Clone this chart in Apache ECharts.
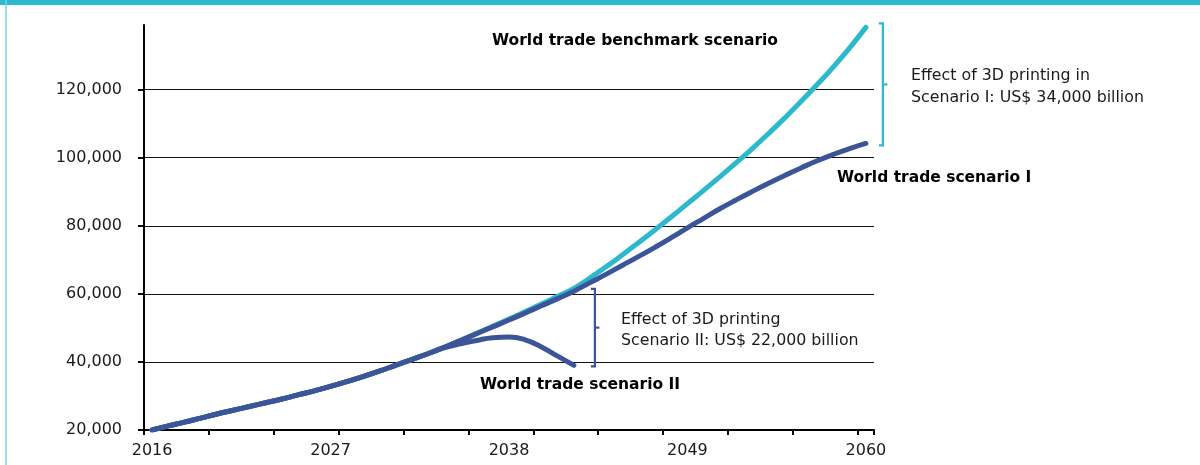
<!DOCTYPE html>
<html>
<head>
<meta charset="utf-8">
<script src="https://cdn.jsdelivr.net/npm/echarts@6/dist/echarts.min.js"></script>
<style>
  html, body { margin: 0; padding: 0; background: #ffffff; }
  #chart { width: 1200px; height: 465px; }
</style>
</head>
<body>
<div id="chart"></div>
<script>
// ---- data (US$ billion) ----
const years = [];
for (let y = 2016; y <= 2060; y++) years.push(String(y));

const benchmark = [
  20000, 21200, 22300, 23500, 24700, 25800, 26900, 28000, 29100, 30300,
  31500, 32800, 34200, 35700, 37300, 39000, 40700, 42400, 44300, 46300,
  48400, 50500, 52600, 54800, 57000, 59300, 61600, 64700, 68000, 71500,
  75100, 78800, 82600, 86500, 90400, 94400, 98500, 102700, 107100, 111700,
  116500, 121500, 126700, 132300, 138300
];
const scenarioI = [
  20000, 21200, 22300, 23500, 24700, 25800, 26900, 28000, 29100, 30300,
  31500, 32800, 34200, 35700, 37300, 39000, 40700, 42400, 44300, 46300,
  48300, 50300, 52300, 54400, 56500, 58600, 60800, 63300, 65800, 68400,
  71000, 73700, 76500, 79400, 82200, 85000, 87600, 90100, 92500, 94800,
  97000, 99100, 101000, 102700, 104200
];
const scenarioII = [
  20000, 21200, 22300, 23500, 24700, 25800, 26900, 28000, 29100, 30300,
  31500, 32800, 34200, 35700, 37300, 39000, 40700, 42400, 44100, 45300,
  46300, 47100, 47300, 46500, 44400, 41700, 39000
];
const yTicks = { min: 20000, max: 139000, interval: 20000 };
const seriesNames = ['World trade benchmark scenario', 'World trade scenario I', 'World trade scenario II'];
const effectI = 'Effect of 3D printing in\nScenario I: US$ 34,000 billion';
const effectII = 'Effect of 3D printing\nScenario II: US$ 22,000 billion';

const CYAN = '#2cb8cd';
const NAVY = '#3c5598';
const FONT = '"DejaVu Sans", sans-serif';

const chart = echarts.init(document.getElementById('chart'), null, { renderer: 'canvas' });

const option = {
  animation: false,
  backgroundColor: '#ffffff',
  textStyle: { fontFamily: FONT },
  grid: { left: 144, right: 326, top: 25, bottom: 35, containLabel: false },
  xAxis: {
    type: 'category',
    data: years,
    boundaryGap: true,
    axisLine: { show: true, lineStyle: { color: '#000', width: 2 } },
    axisTick: { show: true, interval: 3, length: 5, lineStyle: { color: '#000', width: 2 } },
    axisLabel: { interval: 10, color: '#1a1a1a', fontSize: 16, margin: 13, fontFamily: FONT },
    splitLine: { show: false }
  },
  yAxis: {
    type: 'value',
    min: yTicks.min,
    max: yTicks.max,
    interval: yTicks.interval,
    axisLine: { show: true, lineStyle: { color: '#000', width: 2 } },
    axisTick: { show: true, length: 6, lineStyle: { color: '#000', width: 2 } },
    axisLabel: {
      color: '#1a1a1a', fontSize: 16, margin: 22, fontFamily: FONT, showMaxLabel: false,
      formatter: v => v.toLocaleString('en-US')
    },
    splitLine: {
      show: true,
      lineStyle: { color: ['#111', '#111', '#111', '#111', '#111', '#111', 'rgba(0,0,0,0)'], width: 1 }
    }
  },
  series: [
    { name: seriesNames[0], type: 'line', data: benchmark, smooth: true, symbol: 'none',
      lineStyle: { color: CYAN, width: 5, cap: 'round' }, z: 2 },
    { name: seriesNames[1], type: 'line', data: scenarioI, smooth: true, symbol: 'none',
      lineStyle: { color: NAVY, width: 5, cap: 'round' }, z: 3 },
    { name: seriesNames[2], type: 'line', data: scenarioII, smooth: true, symbol: 'none',
      lineStyle: { color: NAVY, width: 5, cap: 'round' }, z: 3 }
  ]
};
chart.setOption(option);

// ---- annotations anchored to data ----
const px = (i, v) => chart.convertToPixel({ xAxisIndex: 0, yAxisIndex: 0 }, [i, v]);
const last = years.length - 1;
const endII = scenarioII.length - 1;
const bTop = px(last, benchmark[last]);
const bBot = px(last, scenarioI[last]);
const cTop = px(endII, benchmark[endII]);
const cBot = px(endII, scenarioII[endII]);

function bracket(x, y1, y2, color) {
  const mid = (y1 + y2) / 2;
  return [
    { type: 'polyline', shape: { points: [[x - 4, y1], [x, y1], [x, y2], [x - 4, y2]] },
      style: { stroke: color, lineWidth: 2.2, fill: null }, z: 10 },
    { type: 'line', shape: { x1: x, y1: mid, x2: x + 4.5, y2: mid },
      style: { stroke: color, lineWidth: 2.2 }, z: 10 }
  ];
}

const graphics = [
  // frame
  { type: 'rect', shape: { x: 0, y: 0, width: 1200, height: 5 }, style: { fill: '#2bbad0' }, z: 20 },
  { type: 'line', shape: { x1: 6, y1: 0, x2: 6, y2: 465 }, style: { stroke: '#74d1df', lineWidth: 1.5 }, z: 20 },
  ...bracket(bTop[0] + 17, bTop[1] - 4, bBot[1] + 2, CYAN),
  ...bracket(cTop[0] + 21, cTop[1] + 0.5, cBot[1] + 1, NAVY),
  { type: 'text', x: 492, y: 41, style: { text: seriesNames[0], font: 'bold 15.5px ' + FONT, fill: '#000', verticalAlign: 'middle' }, z: 10 },
  { type: 'text', x: 837, y: 178, style: { text: seriesNames[1], font: 'bold 15.5px ' + FONT, fill: '#000', verticalAlign: 'middle' }, z: 10 },
  { type: 'text', x: 480, y: 385, style: { text: seriesNames[2], font: 'bold 15.5px ' + FONT, fill: '#000', verticalAlign: 'middle' }, z: 10 },
  { type: 'text', x: 911, y: 87, style: { text: effectI, font: '15.8px ' + FONT, fill: '#1a1a1a', verticalAlign: 'middle', lineHeight: 22 }, z: 10 },
  { type: 'text', x: 621, y: 330, style: { text: effectII, font: '15.8px ' + FONT, fill: '#1a1a1a', verticalAlign: 'middle', lineHeight: 21 }, z: 10 }
];
chart.setOption({ graphic: graphics });
</script>
</body>
</html>
